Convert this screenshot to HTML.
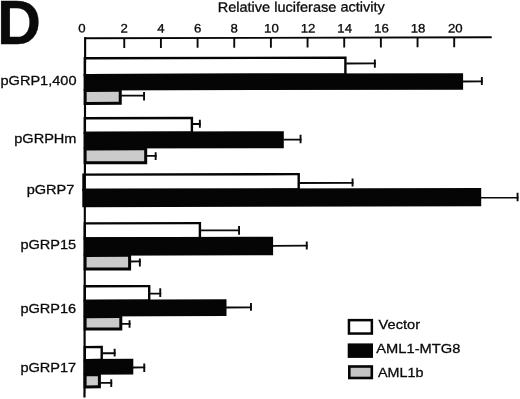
<!DOCTYPE html><html><head><meta charset="utf-8"><title>D</title>
<style>html,body{margin:0;padding:0;background:#fff;}svg{display:block;}text{font-family:"Liberation Sans",Arial,Helvetica,sans-serif;fill:#0a0a0a;stroke:#0a0a0a;stroke-width:0.3px;}</style></head><body>
<svg width="520" height="399" viewBox="0 0 520 399">
<rect width="520" height="399" fill="#fff"/>
<text transform="translate(-3.10,44.20) scale(0.978,1)" font-size="62.3" text-anchor="start" font-weight="bold">D</text>
<g transform="translate(84,0) skewY(-0.132) translate(-84,0)">
<text transform="translate(217.70,12.20) scale(1.054,1)" font-size="13.8" text-anchor="start" >Relative luciferase activity</text>
<text transform="translate(82.00,32.40) scale(1.085,1)" font-size="12.2" text-anchor="middle" >0</text>
<text transform="translate(124.26,32.49) scale(1.085,1)" font-size="12.2" text-anchor="middle" >2</text>
<text transform="translate(160.92,32.58) scale(1.085,1)" font-size="12.2" text-anchor="middle" >4</text>
<text transform="translate(197.58,32.66) scale(1.085,1)" font-size="12.2" text-anchor="middle" >6</text>
<text transform="translate(234.24,32.75) scale(1.085,1)" font-size="12.2" text-anchor="middle" >8</text>
<text transform="translate(271.40,32.83) scale(1.085,1)" font-size="12.2" text-anchor="middle" >10</text>
<text transform="translate(308.06,32.92) scale(1.085,1)" font-size="12.2" text-anchor="middle" >12</text>
<text transform="translate(344.72,33.00) scale(1.085,1)" font-size="12.2" text-anchor="middle" >14</text>
<text transform="translate(381.38,33.08) scale(1.085,1)" font-size="12.2" text-anchor="middle" >16</text>
<text transform="translate(418.04,33.17) scale(1.085,1)" font-size="12.2" text-anchor="middle" >18</text>
<text transform="translate(455.30,33.25) scale(1.085,1)" font-size="12.2" text-anchor="middle" >20</text>
<rect x="123.31" y="38" width="1.9" height="10.10" fill="#0a0a0a"/>
<rect x="159.97" y="38" width="1.9" height="10.10" fill="#0a0a0a"/>
<rect x="196.63" y="38" width="1.9" height="10.10" fill="#0a0a0a"/>
<rect x="233.29" y="38" width="1.9" height="10.10" fill="#0a0a0a"/>
<rect x="269.95" y="38" width="1.9" height="10.10" fill="#0a0a0a"/>
<rect x="306.61" y="38" width="1.9" height="10.10" fill="#0a0a0a"/>
<rect x="343.27" y="38" width="1.9" height="10.10" fill="#0a0a0a"/>
<rect x="379.93" y="38" width="1.9" height="10.10" fill="#0a0a0a"/>
<rect x="416.59" y="38" width="1.9" height="10.10" fill="#0a0a0a"/>
<rect x="453.25" y="38" width="1.9" height="10.10" fill="#0a0a0a"/>
<rect x="84.80" y="58.30" width="260.60" height="16.90" fill="#fff" stroke="#050505" stroke-width="2.4"/>
<rect x="346.10" y="63.20" width="29.70" height="1.8" fill="#0a0a0a"/>
<rect x="373.90" y="60.17" width="1.9" height="8.20" fill="#0a0a0a"/>
<rect x="83.6" y="74.00" width="379.50" height="16.50" fill="#050505"/>
<rect x="462.60" y="81.47" width="20.20" height="1.8" fill="#0a0a0a"/>
<rect x="480.90" y="77.82" width="1.9" height="8.10" fill="#0a0a0a"/>
<rect x="85.10" y="90.40" width="35.15" height="13.00" fill="#cbcbcb" stroke="#050505" stroke-width="3.0"/>
<rect x="121.25" y="94.85" width="23.75" height="1.8" fill="#0a0a0a"/>
<rect x="143.10" y="92.20" width="1.9" height="8.50" fill="#0a0a0a"/>
<rect x="84.80" y="118.30" width="107.10" height="14.60" fill="#fff" stroke="#050505" stroke-width="2.4"/>
<rect x="192.60" y="123.35" width="8.20" height="1.8" fill="#0a0a0a"/>
<rect x="198.90" y="119.97" width="1.9" height="8.00" fill="#0a0a0a"/>
<rect x="83.6" y="131.70" width="200.20" height="16.90" fill="#050505"/>
<rect x="283.30" y="139.26" width="18.20" height="1.8" fill="#0a0a0a"/>
<rect x="299.60" y="135.30" width="1.9" height="8.40" fill="#0a0a0a"/>
<rect x="85.10" y="149.00" width="60.60" height="13.80" fill="#cbcbcb" stroke="#050505" stroke-width="3.0"/>
<rect x="146.70" y="155.05" width="9.90" height="1.8" fill="#0a0a0a"/>
<rect x="154.70" y="152.45" width="1.9" height="7.70" fill="#0a0a0a"/>
<rect x="83.50" y="174.60" width="215.20" height="15.40" fill="#fff" stroke="#050505" stroke-width="2.4"/>
<rect x="299.40" y="182.60" width="54.10" height="1.8" fill="#0a0a0a"/>
<rect x="351.60" y="179.12" width="1.9" height="8.00" fill="#0a0a0a"/>
<rect x="82.3" y="188.80" width="398.90" height="18.40" fill="#050505"/>
<rect x="480.70" y="198.01" width="37.80" height="1.4" fill="#0a0a0a"/>
<rect x="516.60" y="193.70" width="1.9" height="8.50" fill="#0a0a0a"/>
<rect x="84.80" y="223.40" width="115.10" height="15.00" fill="#fff" stroke="#050505" stroke-width="2.4"/>
<rect x="200.60" y="229.77" width="39.40" height="1.8" fill="#0a0a0a"/>
<rect x="238.10" y="226.46" width="1.9" height="8.60" fill="#0a0a0a"/>
<rect x="83.6" y="237.20" width="189.50" height="18.50" fill="#050505"/>
<rect x="272.60" y="245.33" width="35.10" height="1.8" fill="#0a0a0a"/>
<rect x="305.80" y="242.01" width="1.9" height="8.10" fill="#0a0a0a"/>
<rect x="85.10" y="255.40" width="44.50" height="13.60" fill="#cbcbcb" stroke="#050505" stroke-width="3.0"/>
<rect x="130.60" y="260.70" width="10.20" height="1.8" fill="#0a0a0a"/>
<rect x="138.90" y="258.60" width="1.9" height="8.10" fill="#0a0a0a"/>
<rect x="84.80" y="286.30" width="64.40" height="14.60" fill="#fff" stroke="#050505" stroke-width="2.4"/>
<rect x="149.90" y="292.85" width="11.30" height="1.8" fill="#0a0a0a"/>
<rect x="159.30" y="288.38" width="1.9" height="8.80" fill="#0a0a0a"/>
<rect x="83.6" y="299.70" width="142.90" height="16.70" fill="#050505"/>
<rect x="226.00" y="306.93" width="25.90" height="1.8" fill="#0a0a0a"/>
<rect x="250.00" y="303.28" width="1.9" height="7.90" fill="#0a0a0a"/>
<rect x="85.10" y="316.70" width="35.70" height="12.30" fill="#cbcbcb" stroke="#050505" stroke-width="3.0"/>
<rect x="121.80" y="323.00" width="8.70" height="1.8" fill="#0a0a0a"/>
<rect x="128.60" y="320.40" width="1.9" height="7.40" fill="#0a0a0a"/>
<rect x="84.80" y="347.10" width="16.90" height="13.00" fill="#fff" stroke="#050505" stroke-width="2.4"/>
<rect x="102.40" y="352.40" width="13.20" height="1.8" fill="#0a0a0a"/>
<rect x="113.70" y="348.70" width="1.9" height="7.90" fill="#0a0a0a"/>
<rect x="83.6" y="358.90" width="49.70" height="15.80" fill="#050505"/>
<rect x="132.80" y="366.70" width="12.40" height="1.8" fill="#0a0a0a"/>
<rect x="143.30" y="363.60" width="1.9" height="8.50" fill="#0a0a0a"/>
<rect x="85.10" y="374.70" width="14.30" height="12.20" fill="#cbcbcb" stroke="#050505" stroke-width="3.0"/>
<rect x="100.40" y="382.00" width="11.80" height="1.8" fill="#0a0a0a"/>
<rect x="110.30" y="379.20" width="1.9" height="7.80" fill="#0a0a0a"/>
<polygon points="84.1,37.3 86.2,37.3 85.6,397.6 83.4,397.6" fill="#050505"/>
<rect x="84.1" y="37.3" width="407.6" height="1.85" fill="#050505"/>
</g>
<text transform="translate(76.50,85.40) scale(1.063,1)" font-size="13.7" text-anchor="end" >pGRP1,400</text>
<text transform="translate(76.50,143.40) scale(1.063,1)" font-size="13.7" text-anchor="end" >pGRPHm</text>
<text transform="translate(74.40,194.20) scale(1.063,1)" font-size="13.7" text-anchor="end" >pGRP7</text>
<text transform="translate(76.20,248.60) scale(1.063,1)" font-size="13.7" text-anchor="end" >pGRP15</text>
<text transform="translate(76.20,313.30) scale(1.063,1)" font-size="13.7" text-anchor="end" >pGRP16</text>
<text transform="translate(76.20,371.60) scale(1.063,1)" font-size="13.7" text-anchor="end" >pGRP17</text>
<rect x="348.95" y="320.15" width="22.9" height="13.4" fill="#fff" stroke="#050505" stroke-width="2.5"/>
<rect x="347.7" y="343.4" width="25.3" height="14.5" fill="#050505"/>
<rect x="349.3" y="366.5" width="22.5" height="11.5" fill="#c4c4c4" stroke="#050505" stroke-width="2.6"/>
<text transform="translate(378.60,329.00) scale(1.068,1)" font-size="13.7" text-anchor="start" >Vector</text>
<text transform="translate(376.30,352.80) scale(1.073,1)" font-size="13.7" text-anchor="start" >AML1-MTG8</text>
<text transform="translate(378.00,376.80) scale(1.048,1)" font-size="13.7" text-anchor="start" >AML1b</text>
</svg></body></html>
